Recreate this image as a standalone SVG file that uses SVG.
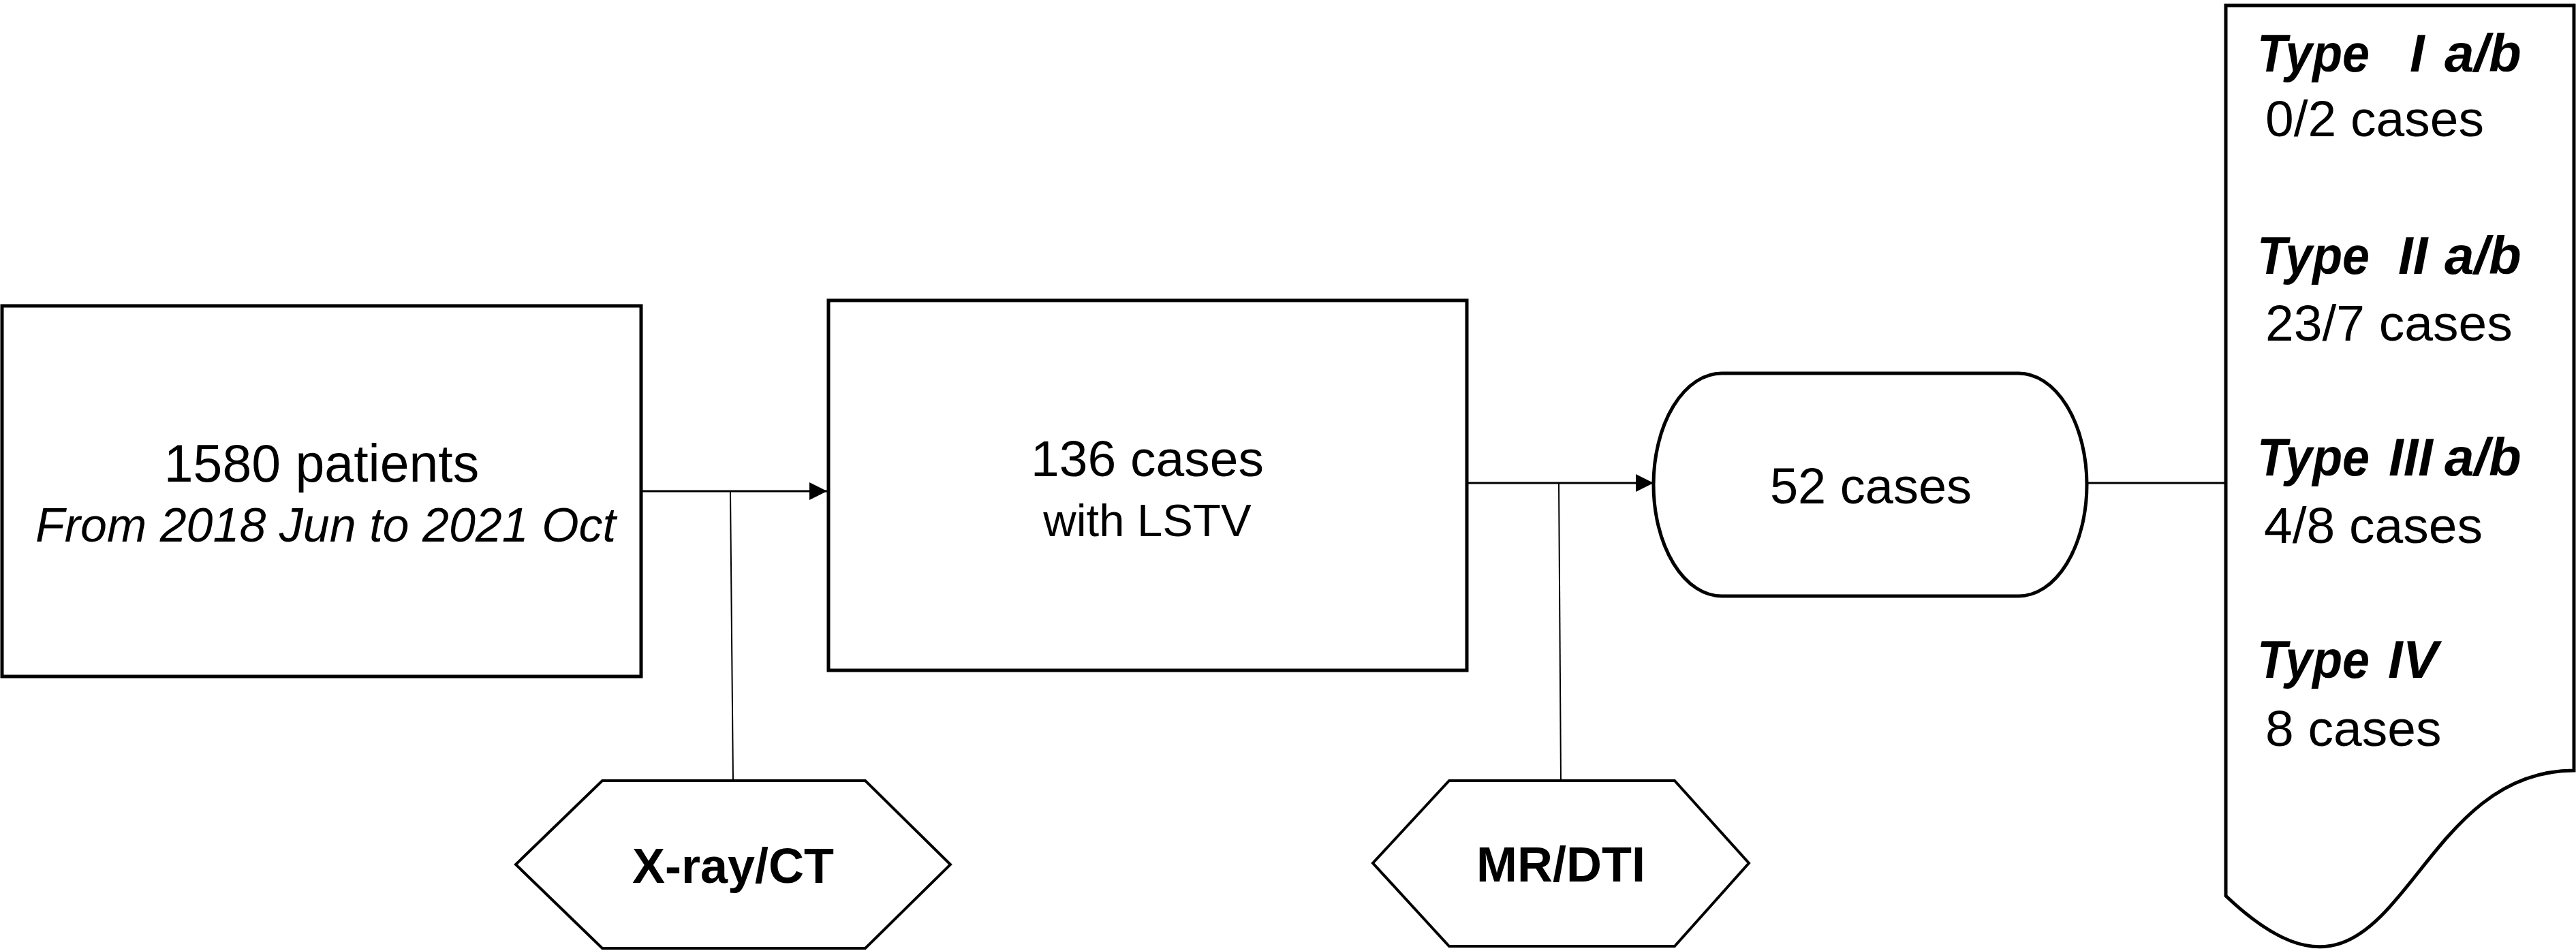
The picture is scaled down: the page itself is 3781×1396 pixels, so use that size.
<svg xmlns="http://www.w3.org/2000/svg" width="3781" height="1396" viewBox="0 0 3781 1396">
<style>
.node{fill:#fff;stroke:#000;stroke-width:5}
.hex{fill:#fff;stroke:#000;stroke-width:4}
.conn{stroke:#000;stroke-width:3;fill:none}
.thin{stroke:#000;stroke-width:2;fill:none}
.t{font-family:"Liberation Sans",Arial,sans-serif;fill:#000}
.c{text-anchor:middle}
.b{font-weight:bold}
.i{font-style:italic}
.ty{font-family:"Liberation Sans",Arial,sans-serif;font-weight:bold;font-style:italic;font-size:78px;fill:#000}
</style>
<defs>
<marker id="arr" markerUnits="userSpaceOnUse" markerWidth="27" markerHeight="27" refX="26" refY="13" orient="auto">
<path d="M0,0 L26,13 L0,26 Z" fill="#000"/>
</marker>
</defs>
<rect width="3781" height="1396" fill="#fff"/>
<g id="connectors">
<line class="conn" x1="941" y1="721" x2="1214" y2="721" marker-end="url(#arr)"/>
<line class="thin" x1="1072" y1="721" x2="1076" y2="1146"/>
<line class="conn" x1="2153" y1="709" x2="2427" y2="709" marker-end="url(#arr)"/>
<line class="thin" x1="2288" y1="709" x2="2291" y2="1146"/>
<line class="conn" x1="3063" y1="709" x2="3267" y2="709"/>
</g>
<g id="node-patients">
<rect class="node" x="3" y="449" width="938" height="544"/>
<text class="t c" x="472" y="707" font-size="77">1580 patients</text>
<text class="t c i" x="478" y="795" font-size="70">From 2018 Jun to 2021 Oct</text>
</g>
<g id="node-lstv">
<rect class="node" x="1216" y="441" width="937" height="543"/>
<text class="t c" x="1684" y="699" font-size="75">136 cases</text>
<text class="t c" x="1684" y="787" font-size="67">with LSTV</text>
</g>
<g id="node-52">
<path class="node" d="M2527,548 H2963 A100,163.5 0 0 1 2963,875 H2527 A100,163.5 0 0 1 2527,548 Z"/>
<text class="t c" x="2746" y="739" font-size="74">52 cases</text>
</g>
<g id="node-xray">
<polygon class="hex" points="884,1146 1270,1146 1395,1269 1270,1392 884,1392 757,1269"/>
<text class="t c b" x="1076" y="1296" font-size="72">X-ray/CT</text>
</g>
<g id="node-mr">
<polygon class="hex" points="2127,1146 2458,1146 2567,1267 2458,1389 2127,1389 2015,1267"/>
<text class="t c b" x="2291" y="1294" font-size="72">MR/DTI</text>
</g>
<g id="node-types">
<path class="node" stroke-width="4" d="M3267,8 H3778 V1131 C3522.5,1131 3522.5,1558 3267,1315 Z"/>
<text class="ty" y="105"><tspan x="3313" textLength="165" lengthAdjust="spacingAndGlyphs">Type</tspan><tspan x="3537">I</tspan><tspan x="3588">a/b</tspan></text>
<text class="t" font-size="75" x="3325" y="200">0/2 cases</text>
<text class="ty" y="402"><tspan x="3313" textLength="165" lengthAdjust="spacingAndGlyphs">Type</tspan><tspan x="3520">II</tspan><tspan x="3588">a/b</tspan></text>
<text class="t" font-size="75" x="3325" y="500">23/7 cases</text>
<text class="ty" y="698"><tspan x="3313" textLength="165" lengthAdjust="spacingAndGlyphs">Type</tspan><tspan x="3506">III</tspan><tspan x="3588">a/b</tspan></text>
<text class="t" font-size="75" x="3323" y="797">4/8 cases</text>
<text class="ty" y="995"><tspan x="3313" textLength="165" lengthAdjust="spacingAndGlyphs">Type</tspan><tspan x="3505">IV</tspan></text>
<text class="t" font-size="75" x="3325" y="1095">8 cases</text>
</g>
</svg>
